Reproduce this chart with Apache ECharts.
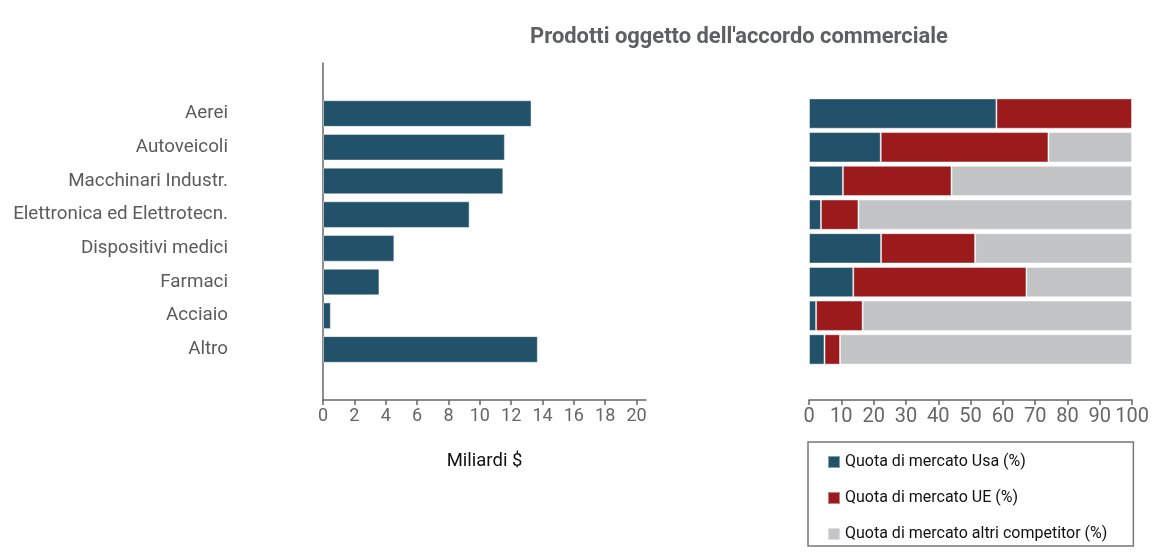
<!DOCTYPE html>
<html>
<head>
<meta charset="utf-8">
<script src="https://cdn.jsdelivr.net/npm/echarts@6/dist/echarts.min.js"></script>
<style>
html,body{margin:0;padding:0;background:#fff;}
#chart{width:1152px;height:553px;}
</style>
</head>
<body>
<div id="chart"></div>
<script>
// Data
var categories = ['Aerei','Autoveicoli','Macchinari Industr.','Elettronica ed Elettrotecn.','Dispositivi medici','Farmaci','Acciaio','Altro'];
var valoreMiliardi = [13.3, 11.6, 11.5, 9.35, 4.55, 3.6, 0.5, 13.7];
var quotaUsa = [58.0, 22.2, 10.5, 3.7, 22.3, 13.7, 2.2, 4.8];
var quotaUE = [42.0, 51.9, 33.6, 11.6, 29.1, 53.6, 14.4, 4.8];
var quotaAltri = [0.0, 25.9, 55.9, 84.7, 48.6, 32.7, 83.4, 90.4];
var leftTicks = [0, 20.6, 2];
var rightTicks = [0, 100, 10];
var seriesNames = ['Quota di mercato Usa (%)', 'Quota di mercato UE (%)', 'Quota di mercato altri competitor (%)'];
var titleText = "Prodotti oggetto dell'accordo commerciale";
var xName = 'Miliardi $';

var colors = ['#22516a', '#9b1a1c', '#c3c4c6'];
// pad categories (empty slot above and below)
var cats = [''].concat(categories).concat(['']);
function pad(arr){ return [null].concat(arr).concat([null]); }

var chart = echarts.init(document.getElementById('chart'));
var fontF = 'Roboto, "Noto Sans", sans-serif';
var border = {borderColor: 'rgba(255,255,255,0.45)', borderWidth: 1};

var option = {
  animation: false,
  backgroundColor: '#fff',
  textStyle: {fontFamily: fontF},
  title: {
    text: titleText,
    left: 734, top: 22, textAlign: 'center',
    textStyle: {fontFamily: fontF, fontSize: 21.9, fontWeight: 'bold', color: '#5d5f61'}
  },
  legend: {
    orient: 'vertical',
    left: 808, top: 442,
    padding: [12, 26, 4, 19],
    itemGap: 20,
    itemWidth: 12, itemHeight: 12,
    borderColor: '#777', borderWidth: 1.5,
    icon: 'rect',
    data: seriesNames,
    textStyle: {fontFamily: fontF, fontSize: 16, color: '#111'}
  },
  grid: [
    {left: 323, top: 63, width: 323, height: 337},
    {left: 809, top: 63, width: 324, height: 337}
  ],
  xAxis: [
    {
      type: 'value', gridIndex: 0,
      min: leftTicks[0], max: leftTicks[1], interval: leftTicks[2],
      name: xName, nameLocation: 'middle', nameGap: 52,
      nameTextStyle: {fontFamily: fontF, fontSize: 18.5, color: '#111'},
      axisLine: {show: true, lineStyle: {color: '#666', width: 1.5}},
      axisTick: {show: true, length: 5, lineStyle: {color: '#666', width: 1.5}},
      axisLabel: {showMaxLabel: false, margin: 7, fontFamily: fontF, fontSize: 18, color: '#666'},
      splitLine: {show: false}
    },
    {
      type: 'value', gridIndex: 1,
      min: rightTicks[0], max: rightTicks[1], interval: rightTicks[2],
      axisLine: {show: true, lineStyle: {color: '#666', width: 1.5}},
      axisTick: {show: true, length: 5, lineStyle: {color: '#666', width: 1.5}},
      axisLabel: {margin: 7, fontFamily: fontF, fontSize: 20, color: '#666'},
      splitLine: {show: false}
    }
  ],
  yAxis: [
    {
      type: 'category', gridIndex: 0, inverse: true, data: cats,
      axisLine: {show: true, lineStyle: {color: '#666', width: 1.5}},
      axisTick: {show: false},
      axisLabel: {margin: 95, fontFamily: fontF, fontSize: 18.8, color: '#5b5b5b'}
    },
    {
      type: 'category', gridIndex: 1, inverse: true, data: cats,
      axisLine: {show: false},
      axisTick: {show: false},
      axisLabel: {show: false}
    }
  ],
  series: [
    {
      type: 'bar', xAxisIndex: 0, yAxisIndex: 0, data: pad(valoreMiliardi),
      barCategoryGap: '21%', itemStyle: Object.assign({color: colors[0]}, border),
      legendHoverLink: false
    },
    {
      name: seriesNames[0], type: 'bar', xAxisIndex: 1, yAxisIndex: 1, stack: 'q',
      data: pad(quotaUsa), barCategoryGap: '10%', itemStyle: Object.assign({color: colors[0]}, border)
    },
    {
      name: seriesNames[1], type: 'bar', xAxisIndex: 1, yAxisIndex: 1, stack: 'q',
      data: pad(quotaUE), barCategoryGap: '10%', itemStyle: Object.assign({color: colors[1]}, border)
    },
    {
      name: seriesNames[2], type: 'bar', xAxisIndex: 1, yAxisIndex: 1, stack: 'q',
      data: pad(quotaAltri), barCategoryGap: '10%', itemStyle: Object.assign({color: colors[2]}, border)
    }
  ]
};
chart.setOption(option);
</script>
</body>
</html>
